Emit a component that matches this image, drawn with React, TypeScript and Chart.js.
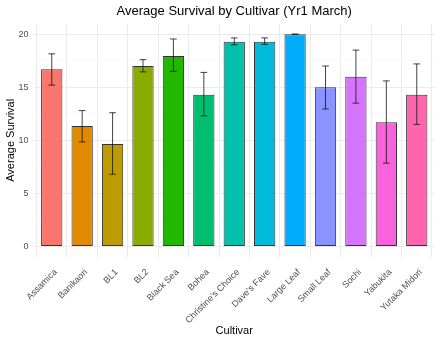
import React, { useEffect, useRef } from "react";
import { Chart, registerables } from "chart.js";

Chart.register(...registerables);

const cultivars = [
  "Assamica", "Banikaori", "BL1", "BL2", "Black Sea", "Bohea",
  "Christine's Choice", "Dave's Fave", "Large Leaf", "Small Leaf",
  "Sochi", "Yabukita", "Yutaka Midori",
];
const meanSurvival = [16.7, 11.35, 9.65, 17.0, 17.95, 14.3, 19.3, 19.3, 20, 15.0, 16.0, 11.7, 14.3];
const errLow = [15.2, 9.85, 6.8, 16.45, 16.5, 12.3, 19.0, 19.05, 20, 12.95, 13.5, 7.85, 11.5];
const errHigh = [18.15, 12.8, 12.6, 17.6, 19.55, 16.4, 19.65, 19.65, 20, 17.0, 18.5, 15.6, 17.2];
const barColors = [
  "#F8766D", "#E18A00", "#BE9C00", "#8CAB00", "#24B700", "#00BE70",
  "#00C1AB", "#00BBDA", "#00ACFC", "#8B93FF", "#D575FE", "#F962DD", "#FF65AC",
];
const yGridValues = [0, 2.5, 5, 7.5, 10, 12.5, 15, 17.5, 20];
const yLabelValues = [0, 5, 10, 15, 20];

const FONT = "'Liberation Sans', Arial, sans-serif";

const errorBarsPlugin = {
  id: "errorBars",
  afterDatasetsDraw(chart: any) {
    const { ctx, scales } = chart;
    const x = scales.x;
    const y = scales.y;
    const half = (x.getPixelForValue(1) - x.getPixelForValue(0)) * 0.11;
    ctx.save();
    ctx.strokeStyle = "rgba(20,20,20,0.8)";
    ctx.lineWidth = 1;
    cultivars.forEach((_, i) => {
      const px = x.getPixelForValue(i);
      const top = y.getPixelForValue(errHigh[i]);
      const bot = y.getPixelForValue(errLow[i]);
      ctx.beginPath();
      ctx.moveTo(px, top);
      ctx.lineTo(px, bot);
      ctx.moveTo(px - half, top);
      ctx.lineTo(px + half, top);
      ctx.moveTo(px - half, bot);
      ctx.lineTo(px + half, bot);
      ctx.stroke();
    });
    ctx.restore();
  },
};

export default function App() {
  const ref = useRef<HTMLCanvasElement | null>(null);

  useEffect(() => {
    if (!ref.current) return;
    const chart = new Chart(ref.current, {
      type: "bar",
      data: {
        datasets: [
          {
            data: meanSurvival.map((v, i) => ({ x: i, y: v })),
            backgroundColor: barColors,
            borderColor: "#333333",
            borderWidth: 1,
            borderSkipped: false,
            barPercentage: 0.7,
            categoryPercentage: 1,
          },
        ],
      },
      options: {
        animation: false,
        responsive: false,
        devicePixelRatio: 1,
        layout: { padding: { left: 0, right: 5, top: 0, bottom: 0 } },
        plugins: {
          legend: { display: false },
          tooltip: { enabled: false },
          title: {
            display: true,
            text: "Average Survival by Cultivar (Yr1 March)",
            fullSize: false,
            color: "#000000",
            font: { family: FONT, size: 13, weight: "normal" },
            padding: { top: 4, bottom: 4 },
          },
        },
        scales: {
          x: {
            type: "linear",
            min: -0.6,
            max: 12.6,
            offset: false,
            afterBuildTicks: (scale: any) => {
              scale.ticks = cultivars.map((_, i) => ({ value: i }));
            },
            afterFit: (scale: any) => {
              scale.height = 81;
            },
            grid: { color: "#EBEBEB", lineWidth: 1, drawTicks: false },
            border: { display: false },
            ticks: {
              autoSkip: false,
              maxRotation: 45,
              minRotation: 45,
              padding: 10,
              labelOffset: 4,
              color: "#4D4D4D",
              font: { family: FONT, size: 9 },
              callback: (v: any) => cultivars[Math.round(Number(v))] ?? "",
            },
            title: {
              display: true,
              text: "Cultivar",
              color: "#000000",
              font: { family: FONT, size: 11 },
              padding: { top: 4, bottom: 0 },
            },
          },
          y: {
            min: -1,
            max: 21,
            afterBuildTicks: (scale: any) => {
              scale.ticks = yGridValues.map((v) => ({ value: v }));
            },
            afterFit: (scale: any) => {
              scale.width = 33.5;
            },
            grid: {
              drawTicks: false,
              color: (c: any) => (yLabelValues.includes(c.tick?.value) ? "#EBEBEB" : "#F4F4F4"),
              lineWidth: (c: any) => (yLabelValues.includes(c.tick?.value) ? 1 : 0.6),
            },
            border: { display: false },
            ticks: {
              padding: 5,
              color: "#4D4D4D",
              font: { family: FONT, size: 9 },
              callback: (v: any) => (yLabelValues.includes(Number(v)) ? String(v) : ""),
            },
            title: {
              display: true,
              text: "Average Survival",
              color: "#000000",
              font: { family: FONT, size: 11 },
              padding: { top: 4, bottom: 0 },
            },
          },
        },
      },
      plugins: [errorBarsPlugin],
    } as any);
    return () => chart.destroy();
  }, []);

  return (
    <div style={{ position: "fixed", left: 0, top: 0, width: 440, height: 338, background: "#ffffff" }}>
      <canvas ref={ref} width={440} height={338} style={{ width: 440, height: 338 }} />
    </div>
  );
}
